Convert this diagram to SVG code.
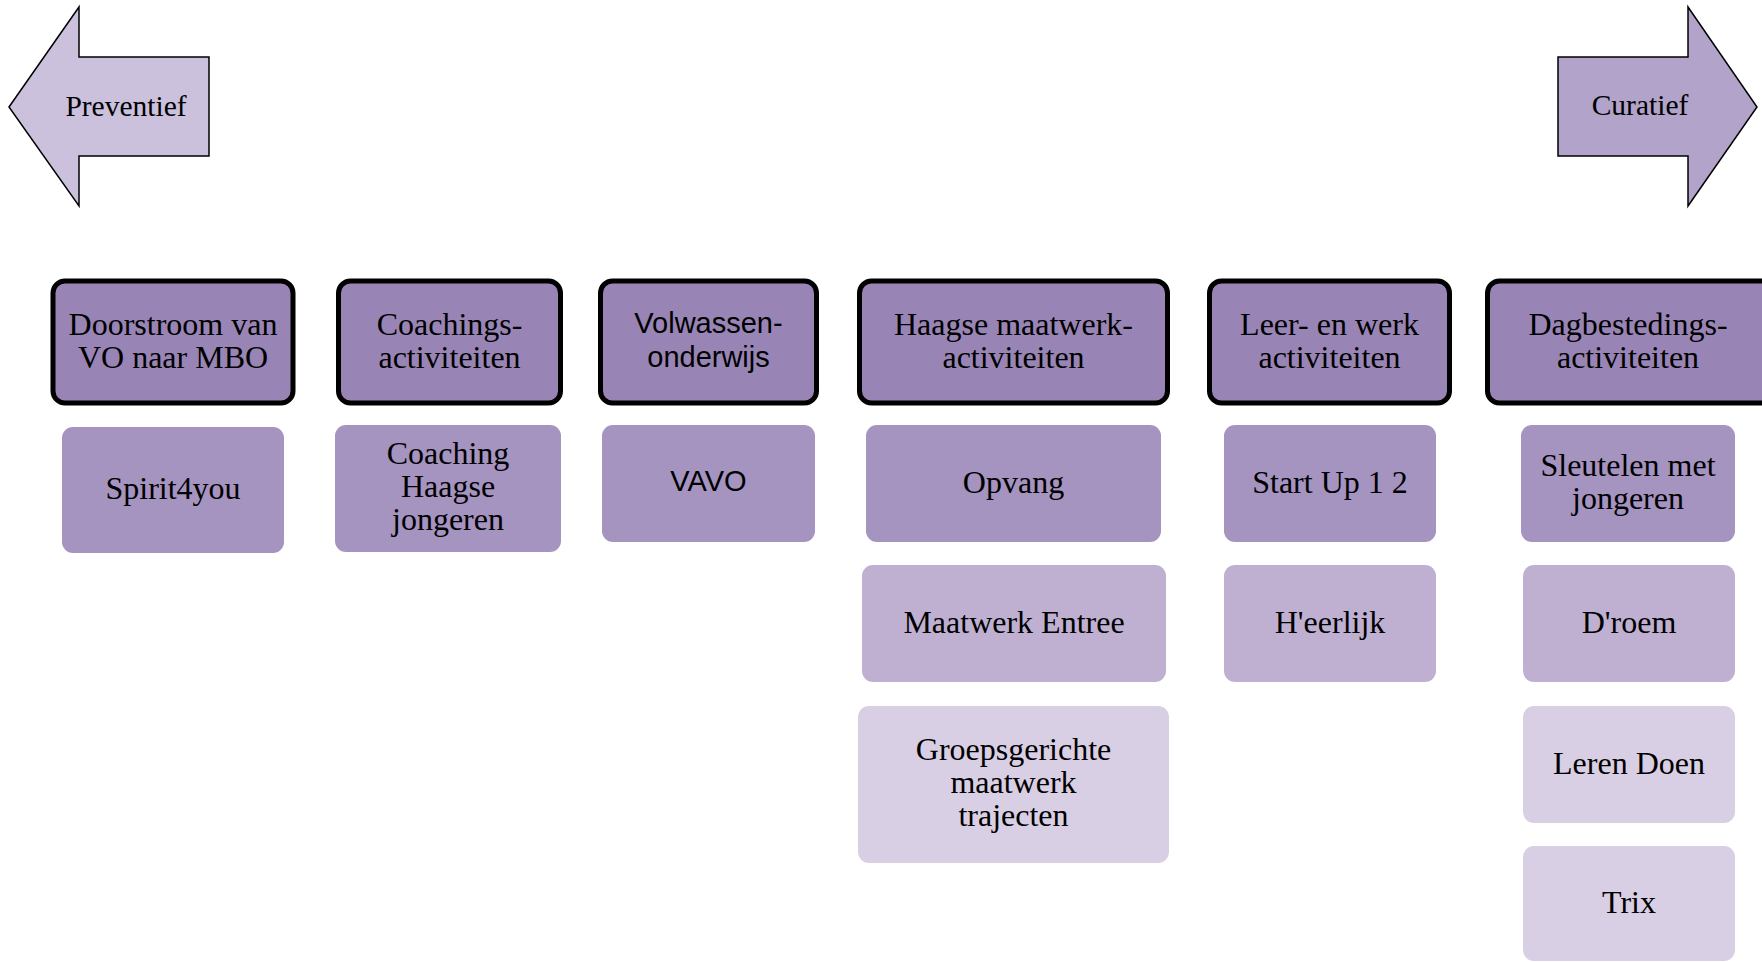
<svg xmlns="http://www.w3.org/2000/svg" width="1762" height="962" viewBox="0 0 1762 962">
<style>
.t{font-family:"Liberation Serif","Times New Roman",serif;font-size:32px;fill:#000;text-anchor:middle}
.s{font-family:"Liberation Sans",Arial,sans-serif;font-size:29px;fill:#000;text-anchor:middle}
.a{font-family:"Liberation Serif","Times New Roman",serif;font-size:29.5px;fill:#000;text-anchor:middle}
.h{fill:#9985b5;stroke:#000;stroke-width:5}
.l1{fill:#a593c0}
.l2{fill:#bfb0d2}
.l3{fill:#d9cfe5}
.arr{stroke:#000;stroke-width:1.5;stroke-linejoin:miter}
</style>
<rect width="1762" height="962" fill="#fff"/>
<g id="preventief">
<polygon class="arr" fill="#cbc1dd" points="9,107 79,7 79,57 209,57 209,156 79,156 79,206"/>
<text class="a" x="126" y="116">Preventief</text>
</g>
<g id="curatief">
<polygon class="arr" fill="#b1a3c9" points="1558,57 1688,57 1688,7 1757,107 1688,206 1688,156 1558,156"/>
<text class="a" x="1640" y="115">Curatief</text>
</g>
<g id="h1"><rect class="h" x="53" y="281" width="240" height="122" rx="12"/>
<text class="t" x="173" y="335">Doorstroom van</text><text class="t" x="173" y="368">VO naar MBO</text></g>
<g id="h2"><rect class="h" x="338.5" y="281" width="222" height="122" rx="12"/>
<text class="t" x="449.5" y="335">Coachings-</text><text class="t" x="449.5" y="368">activiteiten</text></g>
<g id="h3"><rect class="h" x="600.5" y="281" width="216" height="122" rx="12"/>
<text class="s" x="708.5" y="333">Volwassen-</text><text class="s" x="708.5" y="367">onderwijs</text></g>
<g id="h4"><rect class="h" x="859.5" y="281" width="308" height="122" rx="12"/>
<text class="t" x="1013.5" y="335">Haagse maatwerk-</text><text class="t" x="1013.5" y="368">activiteiten</text></g>
<g id="h5"><rect class="h" x="1209.5" y="281" width="240" height="122" rx="12"/>
<text class="t" x="1329.5" y="335">Leer- en werk</text><text class="t" x="1329.5" y="368">activiteiten</text></g>
<g id="h6"><rect class="h" x="1487.5" y="281" width="285" height="122" rx="12"/>
<text class="t" x="1628" y="335">Dagbestedings-</text><text class="t" x="1628" y="368">activiteiten</text></g>
<g id="spirit4you"><rect class="l1" x="62" y="427" width="222" height="126" rx="11"/>
<text class="t" x="173" y="499">Spirit4you</text></g>
<g id="coaching-haagse-jongeren"><rect class="l1" x="335" y="425" width="226" height="127" rx="11"/>
<text class="t" x="448" y="464">Coaching</text><text class="t" x="448" y="497">Haagse</text><text class="t" x="448" y="530">jongeren</text></g>
<g id="vavo"><rect class="l1" x="602" y="425" width="213" height="117" rx="11"/>
<text class="s" x="708.5" y="491">VAVO</text></g>
<g id="opvang"><rect class="l1" x="866" y="425" width="295" height="117" rx="11"/>
<text class="t" x="1013.5" y="493">Opvang</text></g>
<g id="maatwerk-entree"><rect class="l2" x="862" y="565" width="304" height="117" rx="11"/>
<text class="t" x="1014" y="633">Maatwerk Entree</text></g>
<g id="groepsgerichte"><rect class="l3" x="858" y="706" width="311" height="157" rx="11"/>
<text class="t" x="1013.5" y="760">Groepsgerichte</text><text class="t" x="1013.5" y="793">maatwerk</text><text class="t" x="1013.5" y="826">trajecten</text></g>
<g id="start-up"><rect class="l1" x="1224" y="425" width="212" height="117" rx="11"/>
<text class="t" x="1330" y="493">Start Up 1 2</text></g>
<g id="heerlijk"><rect class="l2" x="1224" y="565" width="212" height="117" rx="11"/>
<text class="t" x="1330" y="633">H'eerlijk</text></g>
<g id="sleutelen"><rect class="l1" x="1521" y="425" width="214" height="117" rx="11"/>
<text class="t" x="1628" y="476">Sleutelen met</text><text class="t" x="1628" y="509">jongeren</text></g>
<g id="droem"><rect class="l2" x="1523" y="565" width="212" height="117" rx="11"/>
<text class="t" x="1629" y="633">D'roem</text></g>
<g id="leren-doen"><rect class="l3" x="1523" y="706" width="212" height="117" rx="11"/>
<text class="t" x="1629" y="774">Leren Doen</text></g>
<g id="trix"><rect class="l3" x="1523" y="846" width="212" height="115" rx="11"/>
<text class="t" x="1629" y="913">Trix</text></g>
<g id="connectors"></g>
</svg>
